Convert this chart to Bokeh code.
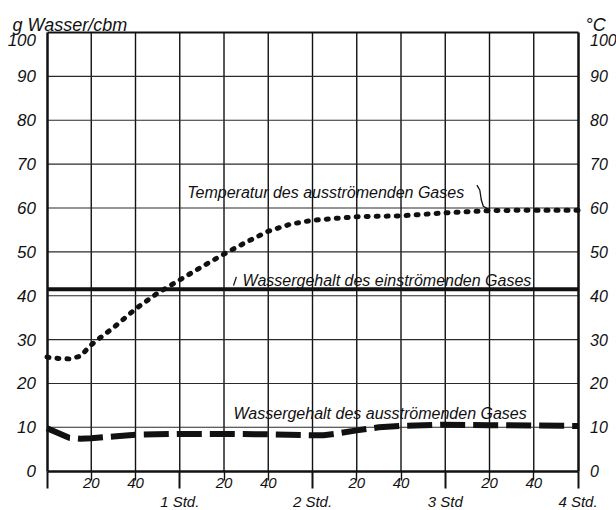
from bokeh.plotting import figure
from bokeh.models import Range1d, LinearAxis, FixedTicker
from bokeh.core.properties import value
from bokeh.embed import file_html
from bokeh.resources import INLINE

# ---- data (time in minutes after start) ----
temp_t = [0, 5, 10, 15, 20, 25, 30, 40, 50, 60, 70, 80, 90, 100, 110, 120, 140, 160, 180, 200, 220, 240]
temp_v = [26.0, 25.7, 25.6, 26.2, 28.8, 30.8, 32.7, 37.0, 40.6, 43.6, 46.6, 49.5, 52.2, 54.7, 56.3, 57.2, 58.0, 58.2, 58.9, 59.4, 59.5, 59.5]

inflow_t = [0, 240]
inflow_v = [41.5, 41.5]

outflow_t = [0, 5, 10, 15, 20, 30, 40, 60, 80, 100, 120, 125, 130, 140, 150, 160, 180, 200, 220, 240]
outflow_v = [9.8, 8.7, 7.6, 7.4, 7.5, 7.9, 8.3, 8.5, 8.5, 8.4, 8.2, 8.2, 8.5, 9.3, 10.0, 10.3, 10.6, 10.5, 10.4, 10.3]

y_ticks = [0, 10, 20, 30, 40, 50, 60, 70, 80, 90]
y_top_tick = [100]
hour_ticks = [0, 60, 120, 180, 240]
hour_labels = ["", "1 Std.", "2 Std.", "3 Std", "4 Std."]
minute_ticks = [20, 40, 80, 100, 140, 160, 200, 220]
minute_labels = ["20", "40", "20", "40", "20", "40", "20", "40"]
grid_x = [20, 40, 60, 80, 100, 120, 140, 160, 180, 200, 220]
grid_y = [10, 20, 30, 40, 50, 60, 70, 80, 90]
x_min, x_max = 0, 240
y_min, y_max = 0, 100

ann_texts = ["Temperatur des ausströmenden Gases",
             "Wassergehalt des einströmenden Gases",
             "Wassergehalt des ausströmenden Gases"]
ann_x = [63.4, 88.4, 84.3]
ann_y = [63.5, 43.5, 13.1]

unit_texts = ["g Wasser/cbm", "°C"]
unit_x = [-15.6, 243.4]
unit_y = [101.6, 101.6]

FONT = "Liberation Sans"
INK = "#111111"

Y0, Y1 = -8.96, 107.29
p = figure(width=616, height=510,
           x_range=Range1d(-21.02, 257.40), y_range=Range1d(Y0, Y1),
           x_axis_location=None, y_axis_location=None,
           output_backend="svg", toolbar_location=None,
           min_border_left=0, min_border_right=0, min_border_top=0, min_border_bottom=0)
p.outline_line_color = None
p.background_fill_color = "white"
p.border_fill_color = "white"
p.grid.visible = False
# the "100" labels sit a little below their line in the original
p.extra_y_ranges = {"top_label": Range1d(Y0 + 1.6, Y1 + 1.6)}


def style_labels(ax, size):
    ax.major_label_text_font = FONT
    ax.major_label_text_font_style = "italic"
    ax.major_label_text_font_size = size
    ax.major_label_text_color = INK
    ax.minor_tick_line_color = None


# grid lines (bounded to the chart box)
p.segment(x0=grid_x, y0=[y_min] * len(grid_x), x1=grid_x, y1=[y_max] * len(grid_x),
          line_color=INK, line_width=1.4)
p.segment(x0=[x_min] * len(grid_y), y0=grid_y, x1=[x_max] * len(grid_y), y1=grid_y,
          line_color="#2a2a2a", line_width=1.1)


def vaxis(loc, side, ticks, standoff, size, line=True, rng="default"):
    ax = LinearAxis(ticker=FixedTicker(ticks=ticks), fixed_location=loc, bounds=(y_min, y_max),
                    y_range_name=rng)
    ax.axis_line_width = 2.5
    ax.axis_line_color = INK if line else None
    ax.major_tick_line_color = None
    ax.major_label_standoff = standoff
    style_labels(ax, size)
    p.add_layout(ax, side)


vaxis(x_min, "left", y_ticks, 5, "17px")
vaxis(x_min, "left", y_top_tick, 5, "17px", line=False, rng="top_label")
vaxis(x_max, "right", y_ticks, 6, "16px")
vaxis(x_max, "right", y_top_tick, 6, "16px", line=False, rng="top_label")

# top border line
ta = LinearAxis(ticker=FixedTicker(ticks=[]), fixed_location=y_max, bounds=(x_min, x_max))
ta.axis_line_width = 2.2
ta.axis_line_color = INK
ta.major_tick_line_color = None
ta.major_label_text_font_size = "0px"
ta.minor_tick_line_color = None
p.add_layout(ta, "above")

# bottom axis: minute ticks
ma = LinearAxis(ticker=FixedTicker(ticks=minute_ticks), fixed_location=y_min, bounds=(x_min, x_max))
ma.major_label_overrides = {t: l for t, l in zip(minute_ticks, minute_labels)}
ma.axis_line_color = None
ma.major_tick_in = 0
ma.major_tick_out = 9
ma.major_tick_line_width = 1.4
ma.major_tick_line_color = INK
ma.major_label_standoff = -2
style_labels(ma, "15px")
p.add_layout(ma, "below")

# bottom axis: hours
ha = LinearAxis(ticker=FixedTicker(ticks=hour_ticks), fixed_location=y_min, bounds=(x_min, x_max))
ha.major_label_overrides = {t: l for t, l in zip(hour_ticks, hour_labels)}
ha.axis_line_width = 2.6
ha.axis_line_color = INK
ha.major_tick_in = 0
ha.major_tick_out = 17
ha.major_tick_line_width = 2.0
ha.major_tick_line_color = INK
ha.major_label_standoff = 5
style_labels(ha, "15px")
p.add_layout(ha, "below")

# curves
p.line(inflow_t, inflow_v, line_color=INK, line_width=4)
p.line(temp_t, temp_v, line_color=INK, line_width=5, line_dash="2 8", line_cap="round")
p.line(outflow_t, outflow_v, line_color=INK, line_width=6, line_dash="25 8")

# curve annotations
p.text(x=ann_x, y=ann_y, text=ann_texts, text_font=value(FONT), text_font_style="italic",
       text_font_size="16px", text_align="left", text_baseline="alphabetic", text_color=INK)
p.line([194.3, 195.6, 196.3, 197.2, 199.9], [65.2, 64.1, 61.8, 60.4, 59.6], line_color=INK, line_width=1.3)
p.line([84.3, 85.6], [42.3, 44.3], line_color=INK, line_width=1.3)

# unit labels
p.text(x=unit_x, y=unit_y, text=unit_texts, text_font=value(FONT), text_font_style="italic",
       text_font_size="18px", text_align="left", text_baseline="alphabetic", text_color=INK)

open("out.html", "w").write(file_html(p, INLINE))
